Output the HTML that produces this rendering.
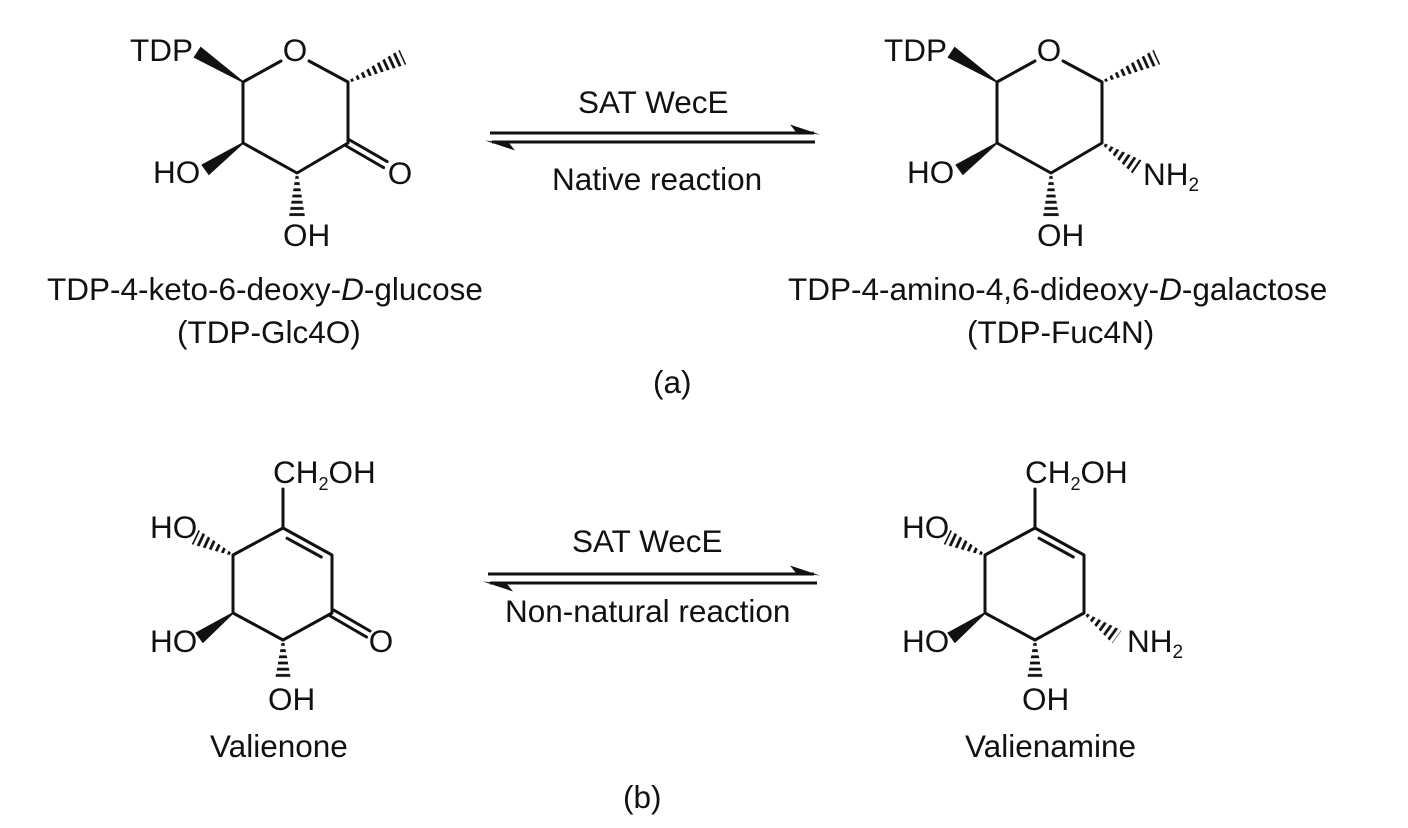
<!DOCTYPE html>
<html>
<head>
<meta charset="utf-8">
<style>
  html, body { margin: 0; padding: 0; background: #ffffff; }
  svg { display: block; }
  text { font-family: "Liberation Sans", Arial, sans-serif; font-size: 31.5px; fill: #111; }
</style>
</head>
<body>
<svg width="1408" height="828" viewBox="0 0 1408 828" xmlns="http://www.w3.org/2000/svg">
  <defs>
    <pattern id="hatch" patternUnits="userSpaceOnUse" width="6.2" height="4">
      <rect x="3" y="0" width="2.8" height="4" fill="#111"/>
    </pattern>
    <clipPath id="wc" clipPathUnits="objectBoundingBox">
      <polygon points="0,0.44 1,0 1,1 0,0.56"/>
    </clipPath>
  </defs>
  <rect width="1408" height="828" fill="#fff"/>

  <!-- ===== (a) left: TDP-Glc4O ===== -->
  <g stroke="#111" stroke-width="3" fill="none" stroke-linejoin="round" stroke-linecap="round">
    <polyline points="281,61 243,82 243,143 297,173 348,143 348,82 309,61"/>
    <line x1="349.7" y1="140" x2="387.1" y2="161.6"/>
    <line x1="346.3" y1="146" x2="383.6" y2="167.6"/>
  </g>
  <g fill="#111">
    <g transform="translate(243,82) rotate(-146.9)"><polygon points="0,-0.8 54.9,-6.5 54.9,6.5 0,0.8"/></g>
    <g transform="translate(243,143) rotate(144.6)"><polygon points="0,-0.8 46.6,-6.5 46.6,6.5 0,0.8"/></g>
  </g>
  <g transform="translate(348,82) rotate(-24.4)"><rect x="0" y="-8" width="60.4" height="16" fill="url(#hatch)" clip-path="url(#wc)"/></g>
  <g transform="translate(297,173) rotate(90)"><rect x="0" y="-8" width="44" height="16" fill="url(#hatch)" clip-path="url(#wc)"/></g>
  <text x="130" y="61">TDP</text>
  <text x="295" y="61" text-anchor="middle">O</text>
  <text x="153" y="183">HO</text>
  <text x="400" y="184" text-anchor="middle">O</text>
  <text x="283" y="246">OH</text>

  <!-- ===== (a) right: TDP-Fuc4N ===== -->
  <g stroke="#111" stroke-width="3" fill="none" stroke-linejoin="round" stroke-linecap="round">
    <polyline points="1035,61 997,82 997,143 1051,173 1102,143 1102,82 1063,61"/>
  </g>
  <g fill="#111">
    <g transform="translate(997,82) rotate(-146.9)"><polygon points="0,-0.8 54.9,-6.5 54.9,6.5 0,0.8"/></g>
    <g transform="translate(997,143) rotate(144.6)"><polygon points="0,-0.8 46.6,-6.5 46.6,6.5 0,0.8"/></g>
  </g>
  <g transform="translate(1102,82) rotate(-24.4)"><rect x="0" y="-8" width="60.4" height="16" fill="url(#hatch)" clip-path="url(#wc)"/></g>
  <g transform="translate(1051,173) rotate(90)"><rect x="0" y="-8" width="44" height="16" fill="url(#hatch)" clip-path="url(#wc)"/></g>
  <g transform="translate(1102,143) rotate(34.4)"><rect x="0" y="-8" width="42.4" height="16" fill="url(#hatch)" clip-path="url(#wc)"/></g>
  <text x="884" y="61">TDP</text>
  <text x="1049" y="61" text-anchor="middle">O</text>
  <text x="907" y="183">HO</text>
  <text x="1037" y="246">OH</text>
  <text x="1143" y="185">NH<tspan font-size="19" dy="6">2</tspan></text>

  <!-- (a) arrows -->
  <g stroke="#111" stroke-width="3" fill="none">
    <line x1="490" y1="133" x2="814" y2="133"/>
    <line x1="492" y1="142" x2="815" y2="142"/>
  </g>
  <polygon points="820,134.5 790,124.5 796,132" fill="#111"/>
  <polygon points="485,140.5 515,150.5 509,143" fill="#111"/>
  <text x="578" y="113">SAT WecE</text>
  <text x="552" y="190">Native reaction</text>

  <text x="47" y="300">TDP-4-keto-6-deoxy-<tspan font-style="italic">D</tspan>-glucose</text>
  <text x="177" y="343">(TDP-Glc4O)</text>
  <text x="788" y="300">TDP-4-amino-4,6-dideoxy-<tspan font-style="italic">D</tspan>-galactose</text>
  <text x="967" y="343">(TDP-Fuc4N)</text>
  <text x="653" y="393">(a)</text>

  <!-- ===== (b) left: Valienone ===== -->
  <g stroke="#111" stroke-width="3" fill="none" stroke-linejoin="round" stroke-linecap="round">
    <polygon points="283,528 332,555 332,613 283,640 233,613 233,555"/>
    <line x1="287" y1="538.2" x2="321.3" y2="557"/>
    <line x1="283" y1="528" x2="283" y2="489"/>
    <line x1="333.7" y1="610" x2="370" y2="631"/>
    <line x1="330.3" y1="616" x2="366.5" y2="637"/>
  </g>
  <g transform="translate(233,555) rotate(-154.7)"><rect x="0" y="-8" width="42" height="16" fill="url(#hatch)" clip-path="url(#wc)"/></g>
  <g transform="translate(283,640) rotate(90)"><rect x="0" y="-8" width="40" height="16" fill="url(#hatch)" clip-path="url(#wc)"/></g>
  <g fill="#111" transform="translate(233,613) rotate(143.7)"><polygon points="0,-0.8 42.2,-6.5 42.2,6.5 0,0.8"/></g>
  <text x="273" y="483">CH<tspan font-size="18" dy="7">2</tspan><tspan dy="-7">OH</tspan></text>
  <text x="150" y="538">HO</text>
  <text x="150" y="652">HO</text>
  <text x="381" y="652" text-anchor="middle">O</text>
  <text x="268" y="710">OH</text>
  <text x="210" y="757">Valienone</text>

  <!-- ===== (b) right: Valienamine ===== -->
  <g stroke="#111" stroke-width="3" fill="none" stroke-linejoin="round" stroke-linecap="round">
    <polygon points="1035,528 1084,555 1084,613 1035,640 985,613 985,555"/>
    <line x1="1039" y1="538.2" x2="1073.3" y2="557"/>
    <line x1="1035" y1="528" x2="1035" y2="489"/>
  </g>
  <g transform="translate(985,555) rotate(-154.7)"><rect x="0" y="-8" width="42" height="16" fill="url(#hatch)" clip-path="url(#wc)"/></g>
  <g transform="translate(1035,640) rotate(90)"><rect x="0" y="-8" width="40" height="16" fill="url(#hatch)" clip-path="url(#wc)"/></g>
  <g transform="translate(1084,613) rotate(36)"><rect x="0" y="-8" width="40.8" height="16" fill="url(#hatch)" clip-path="url(#wc)"/></g>
  <g fill="#111" transform="translate(985,613) rotate(143.7)"><polygon points="0,-0.8 42.2,-6.5 42.2,6.5 0,0.8"/></g>
  <text x="1025" y="483">CH<tspan font-size="18" dy="7">2</tspan><tspan dy="-7">OH</tspan></text>
  <text x="902" y="538">HO</text>
  <text x="902" y="652">HO</text>
  <text x="1127" y="652">NH<tspan font-size="19" dy="6">2</tspan></text>
  <text x="1022" y="710">OH</text>
  <text x="965" y="757">Valienamine</text>

  <!-- (b) arrows -->
  <g stroke="#111" stroke-width="3" fill="none">
    <line x1="488" y1="574" x2="814" y2="574"/>
    <line x1="490" y1="583" x2="817" y2="583"/>
  </g>
  <polygon points="820,575.5 790,565.5 796,573" fill="#111"/>
  <polygon points="483,581.5 513,591.5 507,584" fill="#111"/>
  <text x="572" y="552">SAT WecE</text>
  <text x="505" y="622">Non-natural reaction</text>
  <text x="623" y="808">(b)</text>
</svg>
</body>
</html>
